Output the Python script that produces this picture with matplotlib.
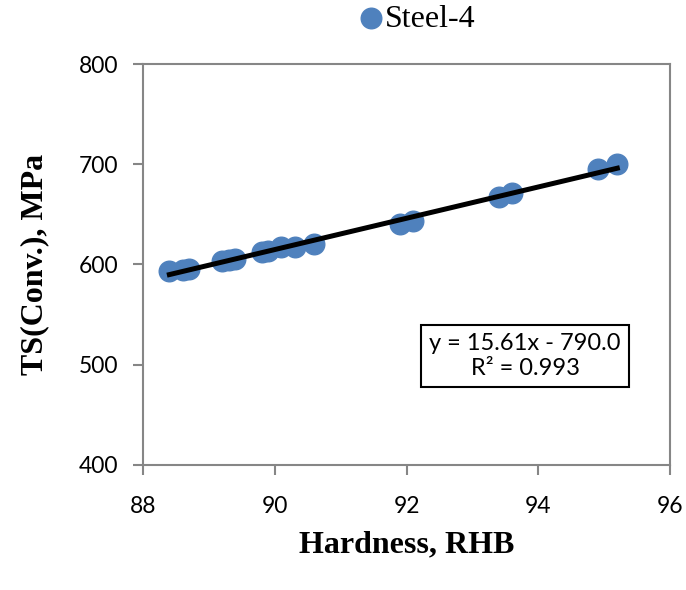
import matplotlib.pyplot as plt
import numpy as np

# Steel-4 hardness vs conventional tensile strength
hardness = [88.4, 88.6, 88.7, 89.2, 89.3, 89.4, 89.8, 89.9, 90.1, 90.3,
            90.6, 91.9, 92.1, 93.4, 93.6, 94.9, 95.2]
ts_conv = [594, 595, 596, 603, 604, 605, 612, 613, 617, 617,
           620, 640, 643, 667, 671, 695, 700]
slope = 15.61
intercept = -790.0
r2 = 0.993

fig = plt.figure(figsize=(6.86, 5.9), dpi=100)
ax = fig.add_axes([0.2085, 0.2119, 0.7682, 0.6796])

ax.scatter(hardness, ts_conv, s=220, color='#4F81BD', label='Steel-4', zorder=2)

xt = np.array([min(hardness), max(hardness)])
ax.plot(xt, slope * xt + intercept, color='black', lw=3.6, zorder=3)

ax.set_xlim(88, 96)
ax.set_ylim(400, 800)
ax.set_xticks([88, 90, 92, 94, 96])
ax.set_yticks([400, 500, 600, 700, 800])

for s in ax.spines.values():
    s.set_color('#868686')
    s.set_linewidth(1.5)
ax.tick_params(axis='both', direction='out', length=7, width=1.5, color='#868686',
               labelsize=16.5)
ax.tick_params(axis='x', pad=15)
ax.tick_params(axis='y', pad=11)
for lab in ax.get_xticklabels() + ax.get_yticklabels():
    lab.set_family('Lato')

ax.set_xlabel('Hardness, RHB', family='Liberation Serif', fontweight='bold',
              fontsize=23, va='center')
ax.xaxis.set_label_coords(0.5, -0.2)
ax.set_ylabel('TS(Conv.), MPa', family='Liberation Serif', fontweight='bold',
              fontsize=23, va='center')
ax.yaxis.set_label_coords(-0.205, 0.5)

ax.text(0.725, 0.272, f'y = {slope:.2f}x - {abs(intercept):.1f}\nR² = {r2:.3f}',
        transform=ax.transAxes, ha='center', va='center', family='Lato',
        fontsize=17, linespacing=1.2,
        bbox=dict(boxstyle='square,pad=0.35', fc='white', ec='black', lw=1.5))

fig.legend(loc='center', bbox_to_anchor=(0.594, 0.968), frameon=False,
           prop={'family': 'Liberation Serif', 'size': 23},
           handletextpad=-0.58, borderpad=0)

fig.savefig('out.png', dpi=100)
